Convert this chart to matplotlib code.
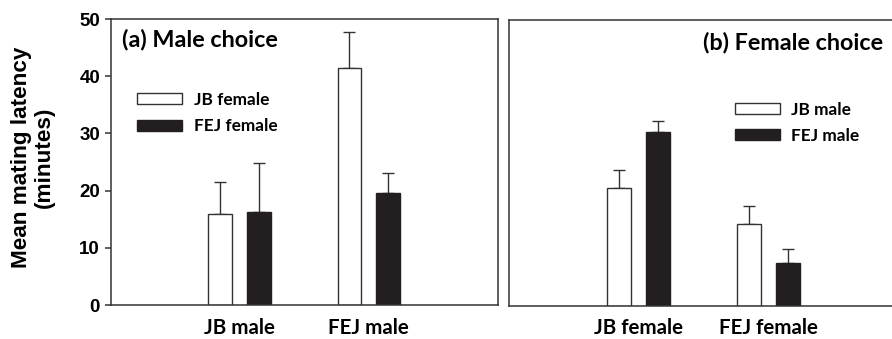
import matplotlib
matplotlib.use("Agg")
import matplotlib.pyplot as plt
import numpy as np

# Data
groups_a = ["JB male", "FEJ male"]
series_a = ["JB female", "FEJ female"]
means_a_white = [15.9, 41.4]
err_a_white = [5.6, 6.4]
means_a_black = [16.3, 19.6]
err_a_black = [8.6, 3.5]

groups_b = ["JB female", "FEJ female"]
series_b = ["JB male", "FEJ male"]
means_b_white = [20.6, 14.4]
err_b_white = [3.1, 3.0]
means_b_black = [30.5, 7.6]
err_b_black = [1.9, 2.3]

yticks = [0, 10, 20, 30, 40, 50]

W, H = 892, 339
fig = plt.figure(figsize=(W / 100, H / 100), dpi=100)

def fx(px):
    return px / W

axA = fig.add_axes([fx(110.5), 1 - 305 / H, fx(498 - 110.5), (305 - 19) / H])
axB = fig.add_axes([fx(509), 1 - 306 / H, fx(898 - 509), (306 - 20) / H])

text_font = "Lato"
tick_font = "Liberation Sans"
dark = "#231f20"
edge = "#333333"

def draw(ax, groups, series, mw, ew, mb, eb, title, title_x, title_y, title_ha, leg_anchor):
    x = np.arange(1, len(groups) + 1)
    width = 0.185
    off = 0.15
    hw = ax.bar(x - off, mw, width, color="white", edgecolor=edge, linewidth=1.0,
                label=series[0], zorder=2)
    hb = ax.bar(x + off, mb, width, color=dark, edgecolor=dark, linewidth=1.0,
                label=series[1], zorder=2)
    ax.errorbar(x - off, mw, yerr=[np.zeros(len(mw)), ew], fmt="none",
                ecolor=edge, elinewidth=1.0, capsize=4, capthick=1.0, zorder=1)
    ax.errorbar(x + off, mb, yerr=[np.zeros(len(mb)), eb], fmt="none",
                ecolor=edge, elinewidth=1.0, capsize=4, capthick=1.0, zorder=1)
    ax.set_xlim(0, 3)
    ax.set_ylim(0, 50)
    ax.set_xticks(x)
    ax.set_xticklabels(groups, fontfamily=text_font, fontweight="bold", fontsize=14.8)
    ax.tick_params(axis="x", length=0, pad=9)
    for s in ax.spines.values():
        s.set_linewidth(1.1)
        s.set_color("#333333")
    ax.text(title_x, title_y, title, transform=ax.transAxes, ha=title_ha, va="center",
            fontfamily=text_font, fontweight="bold", fontsize=16.8)
    leg = ax.legend(handles=[hw, hb], loc="upper left", bbox_to_anchor=leg_anchor,
                    frameon=False, borderpad=0, borderaxespad=0,
                    handlelength=2.65, handleheight=0.58, handletextpad=0.65,
                    labelspacing=0.6,
                    prop={"family": text_font, "weight": "bold", "size": 12.4})
    return leg

draw(axA, groups_a, series_a, means_a_white, err_a_white, means_a_black, err_a_black,
     "(a) Male choice", 0.03, 0.927, "left", (0.068, 0.745))
draw(axB, groups_b, series_b, means_b_white, err_b_white, means_b_black, err_b_black,
     "(b) Female choice", 0.961, 0.923, "right", (0.58, 0.715))

axA.set_yticks(yticks)
axA.set_yticklabels([str(t) for t in yticks], fontfamily=tick_font,
                    fontweight="bold", fontsize=13.5)
axA.tick_params(axis="y", length=4.5, width=1.1, pad=3, direction="out", color="#333333")
axA.set_ylabel("Mean mating latency\n(minutes)", fontfamily=tick_font,
               fontweight="bold", fontsize=16.2, linespacing=1.15)
axA.yaxis.set_label_coords(-0.143, 0.516)

axB.set_yticks([])

fig.savefig("out.png", dpi=100)
